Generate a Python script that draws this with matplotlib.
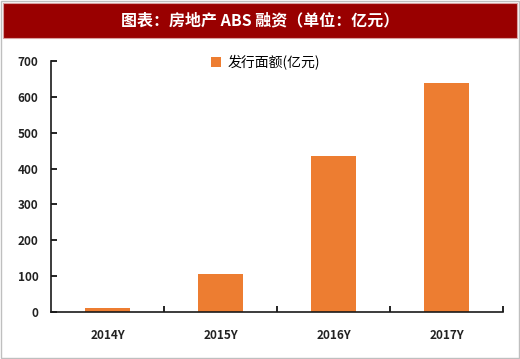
import matplotlib.pyplot as plt
from matplotlib.patches import Rectangle

plt.rcParams['font.family'] = ['Noto Sans CJK SC', 'DejaVu Sans']

years = ['2014Y', '2015Y', '2016Y', '2017Y']
amounts = [10, 107, 435, 638]
yticks = [0, 100, 200, 300, 400, 500, 600, 700]

W, H = 520, 359
fig = plt.figure(figsize=(W / 100, H / 100), dpi=100)

# outer frame and title banner
fig.patches.append(Rectangle((1 / W, 1 / H), 518 / W, 357 / H, transform=fig.transFigure,
                             fill=False, edgecolor='#bfbfbf', linewidth=1))
fig.patches.append(Rectangle((3 / W, 1 - 38 / H), 514 / W, 35 / H, transform=fig.transFigure,
                             facecolor='#990000', edgecolor='#d9a0a0', linewidth=0.8))
fig.text(0.5, 1 - 20.5 / H, '图表：房地产 ABS 融资（单位：亿元）', color='white',
         ha='center', va='center', fontsize=11.5, fontweight='bold')

ax = fig.add_axes([51 / W, 47 / H, 452 / W, 251 / H])
x = range(len(years))
ax.bar(x, amounts, width=0.39, color='#ed7d31', label='发行面额(亿元)')

ax.set_xlim(-0.5, len(years) - 0.5)
ax.set_ylim(0, 700)
ax.set_yticks(yticks)
ax.set_xticks(list(x))
ax.set_xticklabels(years)
ax.set_xticks([i + 0.5 for i in range(len(years))], minor=True)

for s in ['top', 'right']:
    ax.spines[s].set_visible(False)
for s in ['left', 'bottom']:
    ax.spines[s].set_linewidth(1.2)
    ax.spines[s].set_color('#1a1a1a')

ax.tick_params(axis='y', direction='in', length=4, width=1.2, labelsize=8.5, pad=9)
ax.tick_params(axis='x', which='major', length=0, labelsize=8.5, pad=12)
ax.tick_params(axis='x', which='minor', direction='in', length=4, width=1.2)
for lab in ax.get_xticklabels() + ax.get_yticklabels():
    lab.set_fontweight('bold')
    lab.set_color('#222222')

ax.legend(loc='upper center', bbox_to_anchor=(0.475, 1.075), frameon=False,
          fontsize=10, handlelength=0.7, handleheight=0.7, handletextpad=0.5)

fig.savefig('out.png', dpi=100)
